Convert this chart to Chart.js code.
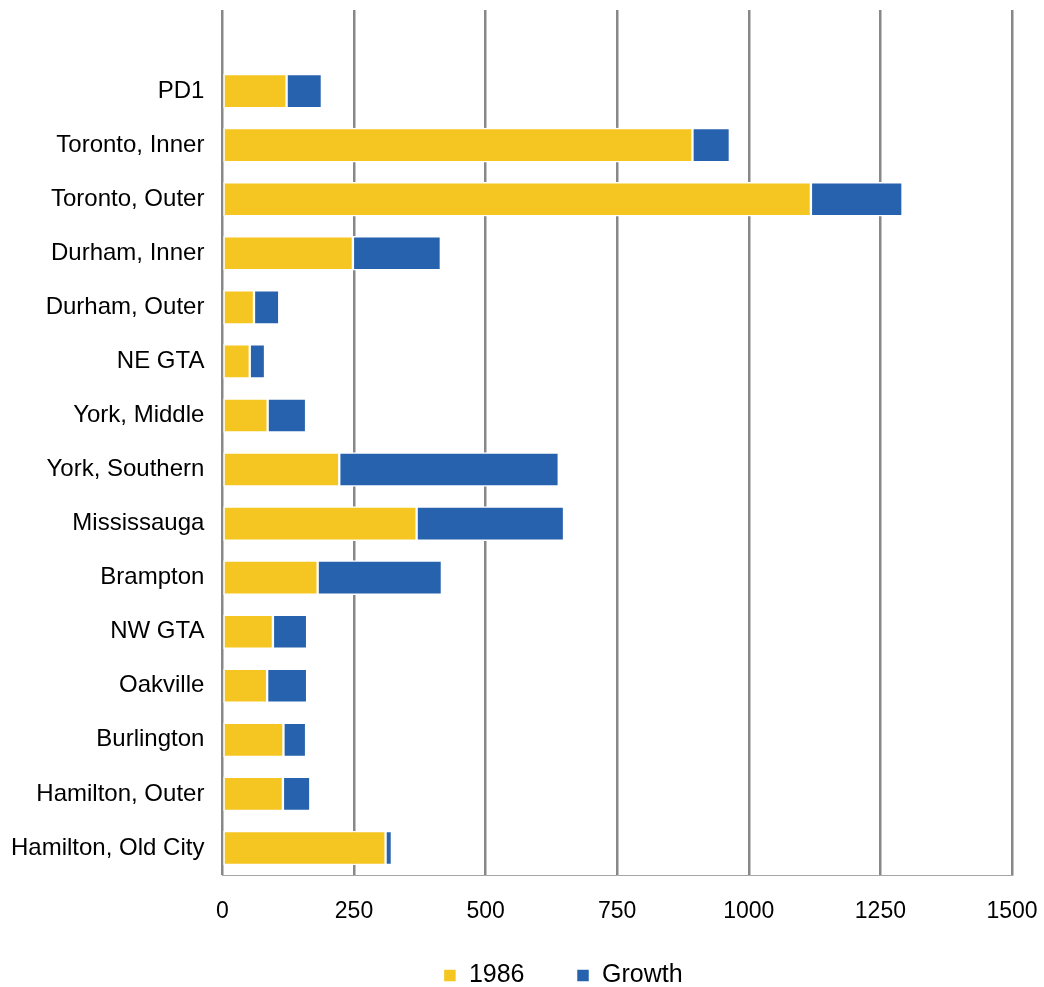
<!DOCTYPE html>
<html>
<head>
<meta charset="utf-8">
<script src="https://cdn.jsdelivr.net/npm/chart.js@4/dist/chart.umd.min.js"></script>
<style>
  html, body { margin: 0; padding: 0; background: #fff; }
  #wrap { width: 1044px; height: 987px; position: relative; }
</style>
</head>
<body>
<div id="wrap"><canvas id="chart"></canvas></div>
<script>
// areas listed top to bottom; the blank first slot leaves headroom above PD1
const areas = ['', 'PD1', 'Toronto, Inner', 'Toronto, Outer', 'Durham, Inner', 'Durham, Outer',
  'NE GTA', 'York, Middle', 'York, Southern', 'Mississauga', 'Brampton', 'NW GTA',
  'Oakville', 'Burlington', 'Hamilton, Outer', 'Hamilton, Old City'];
const base1986 = [null, 122, 893, 1118, 248, 60, 52, 86, 222, 369, 181, 96, 85, 116, 115, 310];
const growth = [null, 67, 71, 174, 167, 48, 29, 73, 417, 280, 236, 65, 76, 43, 52, 12];
const xTicks = [0, 250, 500, 750, 1000, 1250, 1500];

const FONT = 'Liberation Sans, Arial, sans-serif';

// wide gap between legend items but not above them: grow the legend box upward
// after layout, and sit it a little right of centre
const legendNudge = {
  id: 'legendNudge',
  afterLayout(chart) {
    const lg = chart.legend;
    lg.top -= 15;
    lg.height += 15;
    lg.left += 36;
    lg.right += 36;
  },
};

new Chart(document.getElementById('chart'), {
  type: 'bar',
  data: {
    labels: areas,
    datasets: [
      { label: '1986', data: base1986, backgroundColor: '#F5C621' },
      { label: 'Growth', data: growth, backgroundColor: '#2662AD' },
    ].map(ds => ({
      ...ds,
      borderColor: '#fff',
      borderWidth: 1.5,
      borderSkipped: false,
      barThickness: 34,
    })),
  },
  options: {
    indexAxis: 'y',
    responsive: true,
    maintainAspectRatio: false,
    animation: false,
    layout: { padding: { top: 10, left: 10, right: 0, bottom: 0 } },
    scales: {
      x: {
        stacked: true,
        min: 0, max: 1500,
        afterBuildTicks: s => { s.ticks = xTicks.map(v => ({ value: v })); },
        afterFit: s => { s.height = 51; s.paddingRight = 32; s.paddingLeft = 0; },
        grid: { color: '#888', lineWidth: 2.5, drawTicks: false },
        border: { display: true, color: '#a6a6a6', width: 1 },
        ticks: { color: '#000', padding: 23, font: { family: FONT, size: 23 }, callback: v => String(v) },
      },
      y: {
        stacked: true,
        afterFit: s => { s.width -= 17; s.paddingTop = 0; s.paddingBottom = 0; },
        grid: { display: false, drawTicks: false },
        border: { display: false },
        ticks: { color: '#000', padding: 18, font: { family: FONT, size: 24 } },
      },
    },
    plugins: {
      tooltip: { enabled: false },
      legend: {
        position: 'bottom',
        maxHeight: 61,
        labels: {
          color: '#000',
          boxWidth: 13, boxHeight: 13,
          padding: 52,
          font: { family: FONT, size: 25 },
        },
      },
    },
  },
  plugins: [legendNudge],
});
</script>
</body>
</html>
